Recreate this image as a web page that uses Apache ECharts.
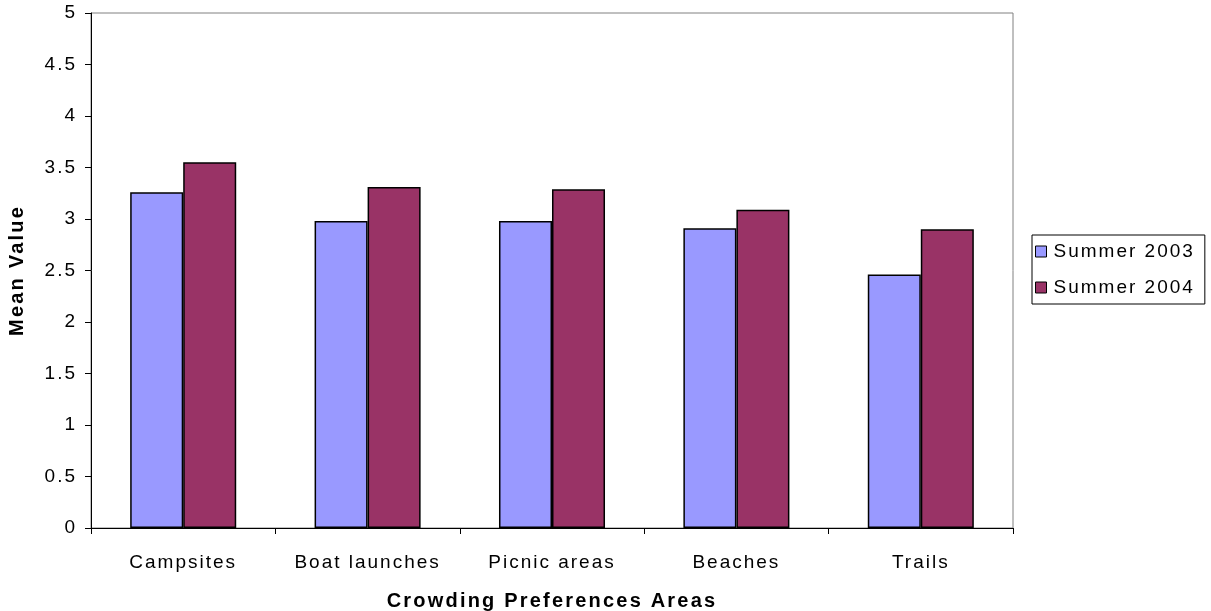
<!DOCTYPE html>
<html><head><meta charset="utf-8">
<script src="https://cdn.jsdelivr.net/npm/echarts@6/dist/echarts.min.js"></script>
<style>html,body{margin:0;padding:0;background:#fff}#c{width:1211px;height:611px}</style>
</head><body><div id="c"></div>
<script>
const categories = ['Campsites', 'Boat launches', 'Picnic areas', 'Beaches', 'Trails'];
const summer2003 = [3.26, 2.98, 2.98, 2.91, 2.46];
const summer2004 = [3.55, 3.31, 3.29, 3.09, 2.90];
const seriesNames = ['Summer 2003', 'Summer 2004'];
const yTicks = [0, 0.5, 1, 1.5, 2, 2.5, 3, 3.5, 4, 4.5, 5];

// wide letter spacing like the original rendering
(function () {
  const d = Object.getOwnPropertyDescriptor(CanvasRenderingContext2D.prototype, 'font');
  if (d && d.set && 'letterSpacing' in CanvasRenderingContext2D.prototype) {
    Object.defineProperty(CanvasRenderingContext2D.prototype, 'font', {
      configurable: true,
      get() { return d.get.call(this); },
      set(v) { d.set.call(this, v); this.letterSpacing = /bold/.test(v) ? '2.2px' : '2px'; }
    });
  }
})();

const font = '"Liberation Sans", Arial, sans-serif';
const chart = echarts.init(document.getElementById('c'));
chart.setOption({
  animation: false,
  grid: { left: 91, right: 198, top: 13, bottom: 83, show: true, borderColor: '#808080', borderWidth: 1,
          containLabel: false, outerBoundsMode: 'none' },
  legend: {
    orient: 'vertical', left: 1032, top: 235, width: 172,
    data: seriesNames,
    icon: 'rect', itemWidth: 11, itemHeight: 11, itemGap: 15,
    padding: [6, 10, 6, 3],
    borderColor: '#000', borderWidth: 1,
    textStyle: { fontFamily: font, fontSize: 19, color: '#000', padding: [0, 0, 0, 2] },
    itemStyle: { borderColor: '#000', borderWidth: 1 }
  },
  xAxis: {
    type: 'category', data: categories,
    name: 'Crowding Preferences Areas', nameLocation: 'middle', nameGap: 62,
    nameTextStyle: { fontFamily: font, fontSize: 20, fontWeight: 'bold', color: '#000' },
    axisLine: { lineStyle: { color: '#000', width: 1 } },
    axisTick: { show: true, length: 6, lineStyle: { color: '#000' } },
    axisLabel: { fontFamily: font, fontSize: 19, color: '#000', margin: 24, interval: 0, hideOverlap: false }
  },
  yAxis: {
    type: 'value', min: 0, max: 5, interval: 0.5,
    name: 'Mean Value', nameLocation: 'middle', nameGap: 62, nameRotate: 90,
    nameTextStyle: { fontFamily: font, fontSize: 20, fontWeight: 'bold', color: '#000' },
    axisLine: { show: true, lineStyle: { color: '#000', width: 1 } },
    axisTick: { show: true, length: 6, lineStyle: { color: '#000' } },
    splitLine: { show: false },
    axisLabel: { fontFamily: font, fontSize: 19, color: '#000', margin: 14,
      formatter: v => yTicks.includes(v) ? String(v) : '' }
  },
  series: [
    { name: seriesNames[0], type: 'bar', data: summer2003, barGap: '0%', barCategoryGap: '42.5%',
      itemStyle: { color: '#9999FF', borderColor: '#000', borderWidth: 1.5 } },
    { name: seriesNames[1], type: 'bar', data: summer2004, barGap: '0%', barCategoryGap: '42.5%',
      itemStyle: { color: '#993366', borderColor: '#000', borderWidth: 1.5 } }
  ]
});
</script></body></html>
